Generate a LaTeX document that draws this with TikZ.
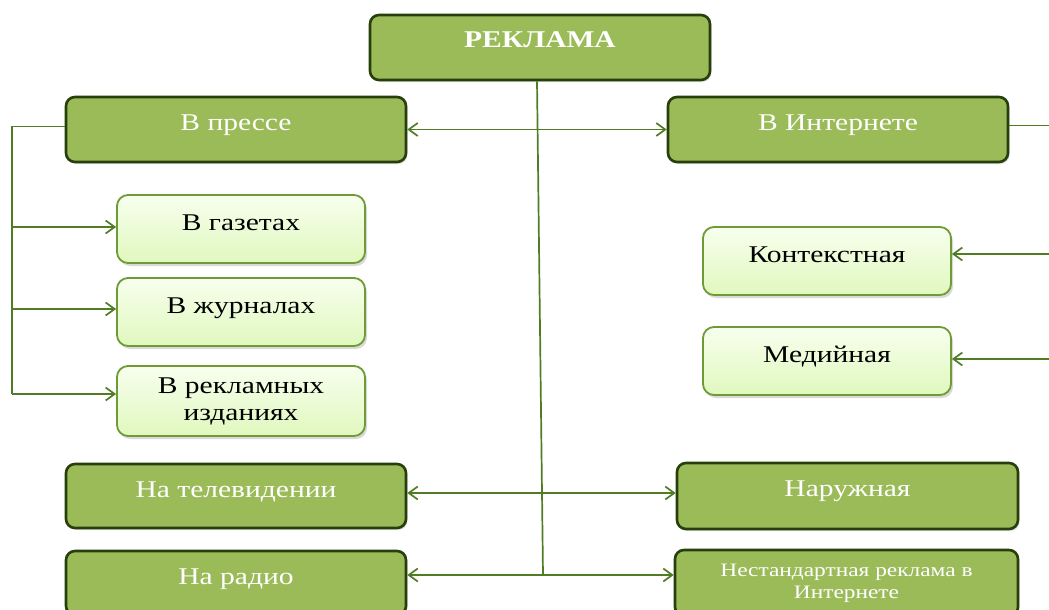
\documentclass[tikz,border=0pt]{standalone}
\usepackage{fontspec}
\setmainfont[FakeStretch=1.23]{Liberation Serif}
\usetikzlibrary{arrows.meta,shadows}
\definecolor{leaf}{HTML}{9BBB59}
\definecolor{leafdark}{HTML}{263F0B}
\definecolor{leafline}{HTML}{507C24}
\definecolor{leafedge}{HTML}{6F9A35}
\definecolor{leaftop}{HTML}{F7FFEE}
\definecolor{leafbot}{HTML}{E0F8BE}
\newcommand\fsmain{\fontsize{24}{27}\selectfont}
\newcommand\fssmall{\fontsize{19}{22}\selectfont}

\begin{document}
\begin{tikzpicture}[x=1pt,y=-1pt,
  darkbox/.style={draw=leafdark, line width=2.6pt, fill=leaf, rounded corners=9pt,
    minimum width=340pt, minimum height=65pt, inner sep=0pt, text=white, font=\fsmain,
    drop shadow={shadow xshift=1.5pt, shadow yshift=-2pt, opacity=0.25}},
  lightbox/.style={draw=leafedge, line width=1.8pt, top color=leaftop, bottom color=leafbot,
    rounded corners=11pt, minimum width=248pt, minimum height=68pt, inner sep=0pt, font=\fsmain,
    drop shadow={shadow xshift=2pt, shadow yshift=-3pt, opacity=0.3}},
  darkline/.style={text height=33pt, text depth=32pt},
  lightline/.style={text height=35pt, text depth=33pt},
  link/.style={draw=leafline, line width=1.7pt},
  tip/.style={-{Straight Barb[length=9pt,width=13pt]}},
  tips/.style={{Straight Barb[length=9pt,width=13pt]}-{Straight Barb[length=9pt,width=13pt]}}]
\useasboundingbox (0,0) rectangle (1049,610);
\clip (0,0) rectangle (1049,610);

\node[darkbox, darkline, font=\fsmain\bfseries] (rek) at (540,47.5) {РЕКЛАМА};
\node[darkbox, darkline] (press) at (236,129.5) {В прессе};
\node[darkbox, darkline] (inet) at (838,129.5) {В Интернете};
\node[lightbox, lightline] (gaz) at (241,229) {В газетах};
\node[lightbox, lightline] (zhur) at (241,312) {В журналах};
\node[lightbox, minimum height=70pt, align=center] (izd) at (241,401) {В рекламных\\изданиях};
\node[lightbox, lightline] (kont) at (827,261) {Контекстная};
\node[lightbox, lightline] (med) at (827,361) {Медийная};
\node[darkbox, darkline, minimum height=64pt, text depth=31pt] (tv) at (236,496) {На телевидении};
\node[darkbox, darkline, minimum height=64pt, text depth=31pt] (radio) at (236,583) {На радио};
\node[darkbox, darkline, minimum width=341pt, minimum height=66pt] (nar) at (847.5,496) {Наружная};
\node[darkbox, minimum width=343pt, minimum height=66pt, align=center, font=\fssmall] (nest) at (846.5,583) {Нестандартная реклама в\\Интернете};

\coordinate (lx) at (12,0);
\coordinate (rx) at (1056,0);
\coordinate (bot) at (543,575);
\coordinate (pressout) at ([yshift=3pt]press.west);
\coordinate (gazin) at ([yshift=2pt]gaz.west);
\coordinate (zhurin) at ([yshift=3pt]zhur.west);
\coordinate (izdin) at ([yshift=7pt]izd.west);
\coordinate (inetout) at ([yshift=4pt]inet.east);
\coordinate (kontin) at ([yshift=7pt]kont.east);
\coordinate (medin) at ([yshift=2pt]med.east);

\draw[link] ([xshift=-3pt]rek.south) -- (bot);
\draw[link, tips] (press.east) -- (inet.west);
\draw[link, tips] ([yshift=3pt]tv.east) -- ([yshift=3pt]nar.west);
\draw[link, tips] (radio.east |- bot) -- (nest.west |- bot);

\draw[link] (pressout) -| (lx |- izdin);
\draw[link, tip] (lx |- gazin) -- (gazin);
\draw[link, tip] (lx |- zhurin) -- (zhurin);
\draw[link, tip] (lx |- izdin) -- (izdin);

\draw[link] (inetout) -| (rx |- medin);
\draw[link, tip] (rx |- kontin) -- (kontin);
\draw[link, tip] (rx |- medin) -- (medin);
\end{tikzpicture}
\end{document}
